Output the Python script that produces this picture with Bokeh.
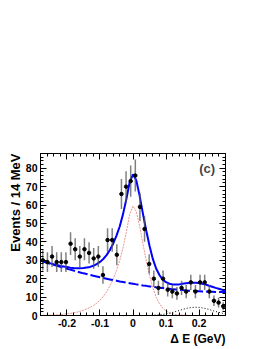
import numpy as np
from bokeh.plotting import figure
from bokeh.models import Range1d, FixedTicker, LinearAxis, Label, Title
from bokeh.embed import file_html
from bokeh.resources import INLINE

# ---- data ----
bin_centers = [-0.273, -0.259, -0.245, -0.231, -0.217, -0.203, -0.189, -0.175, -0.161, -0.147,
               -0.133, -0.119, -0.105, -0.091, -0.077, -0.063, -0.049, -0.035, -0.021, -0.007,
               0.007, 0.021, 0.035, 0.049, 0.063, 0.077, 0.091, 0.105, 0.119, 0.133,
               0.147, 0.161, 0.175, 0.189, 0.203, 0.217, 0.231, 0.245, 0.259, 0.273]
counts = [30, 29, 32, 29, 29, 29, 39, 36, 32, 36,
          34, 31, 32, 22, 41, 41, 33, 66, 70, 73,
          76, 59, 47, 28, 20, 15, 20, 14, 13, 12,
          15, 13, 18, 13, 18, 18, 13, 8, 7, 5]
errors = [5.5, 5.4, 5.7, 5.4, 5.4, 5.4, 6.2, 6.0, 5.7, 6.0,
          5.8, 5.6, 5.7, 4.7, 6.4, 6.4, 5.7, 8.1, 8.4, 8.5,
          8.7, 7.7, 6.9, 5.3, 4.5, 3.9, 4.5, 3.7, 3.6, 3.5,
          3.9, 3.6, 4.2, 3.6, 4.2, 4.2, 3.6, 2.8, 2.6, 2.2]

curve_x = [-0.28, -0.27, -0.26, -0.25, -0.24, -0.23, -0.22, -0.21, -0.20, -0.19,
           -0.18, -0.17, -0.16, -0.15, -0.14, -0.13, -0.12, -0.11, -0.10, -0.09,
           -0.08, -0.07, -0.06, -0.05, -0.04, -0.03, -0.02, -0.01, 0.00, 0.01,
           0.02, 0.03, 0.04, 0.05, 0.06, 0.07, 0.08, 0.09, 0.10, 0.11,
           0.12, 0.13, 0.14, 0.15, 0.16, 0.17, 0.18, 0.19, 0.20, 0.21,
           0.22, 0.23, 0.24, 0.25, 0.26, 0.27, 0.28]
signal = [0.1, 0.1, 0.15, 0.2, 0.3, 0.4, 0.5, 0.7, 0.9, 1.1,
          1.4, 1.8, 2.3, 2.9, 3.6, 4.4, 5.4, 6.7, 8.3, 10.3,
          12.8, 16.0, 19.8, 24.5, 30.0, 37.0, 45.5, 55.0, 59.5, 56.5,
          48.5, 39.0, 30.0, 22.0, 15.0, 10.0, 6.5, 4.0, 2.5, 1.5,
          0.9, 0.5, 0.3, 0.2, 0.1, 0.05, 0.0, 0.0, 0.0, 0.0,
          0.0, 0.0, 0.0, 0.0, 0.0, 0.0, 0.0]
comb_bkg = [29.8, 29.2, 28.6, 28.1, 27.5, 27.0, 26.4, 25.9, 25.4, 24.9,
            24.4, 23.9, 23.4, 22.9, 22.5, 22.0, 21.6, 21.2, 20.8, 20.4,
            20.0, 19.6, 19.2, 18.9, 18.5, 18.2, 17.8, 17.5, 17.2, 16.9,
            16.6, 16.3, 16.1, 15.8, 15.6, 15.3, 15.1, 14.9, 14.7, 14.5,
            14.3, 14.1, 13.9, 13.8, 13.6, 13.5, 13.4, 13.3, 13.2, 13.1,
            13.0, 12.9, 12.9, 12.8, 12.8, 12.7, 12.7]
peak_bkg = [0.0, 0.0, 0.0, 0.0, 0.0, 0.0, 0.0, 0.0, 0.0, 0.0,
            0.0, 0.0, 0.0, 0.0, 0.0, 0.0, 0.0, 0.0, 0.0, 0.0,
            0.0, 0.0, 0.0, 0.0, 0.0, 0.0, 0.0, 0.0, 0.0, 0.0,
            0.0, 0.03, 0.05, 0.09, 0.15, 0.25, 0.4, 0.6, 0.9, 1.25,
            1.7, 2.2, 2.7, 3.3, 3.8, 4.15, 4.4, 4.5, 4.4, 4.15,
            3.8, 3.3, 2.7, 2.2, 1.7, 1.25, 0.9]

x_ticks = [-0.2, -0.1, 0.0, 0.1, 0.2]
x_tick_labels = ["-0.2", "-0.1", "0", "0.1", "0.2"]
y_ticks = [0, 10, 20, 30, 40, 50, 60, 70, 80]

# ---- figure ----
p = figure(width=262, height=347, output_backend="svg", toolbar_location=None,
           x_range=Range1d(-0.28, 0.28), y_range=Range1d(0, 88),
           x_axis_location=None, y_axis_location=None,
           min_border_left=40, min_border_right=37, min_border_top=153, min_border_bottom=32)
p.outline_line_color = "black"
p.outline_line_width = 1
p.grid.visible = False
p.background_fill_color = "white"

x_minor = [round(-0.28 + 0.02 * i, 2) for i in range(29)]
y_minor = [2 * i for i in range(45)]

def style(ax, show_labels, ticks):
    ax.axis_line_color = "black"
    ax.major_tick_in = 6
    ax.major_tick_out = 0
    ax.minor_tick_in = 3
    ax.minor_tick_out = 0
    ax.major_tick_line_color = "black"
    ax.minor_tick_line_color = "black"
    ax.major_label_text_font = "Liberation Sans"
    ax.major_label_text_font_style = "bold"
    ax.major_label_text_color = "black"
    ax.major_label_text_font_size = "10.5px"
    if show_labels:
        ax.major_label_standoff = 3
    else:
        ax.major_label_standoff = 0
        ax.major_label_overrides = {t: "" for t in ticks}

xb = LinearAxis(ticker=FixedTicker(ticks=x_ticks, minor_ticks=x_minor))
style(xb, True, x_ticks)
xb.major_label_overrides = dict(zip(x_ticks, x_tick_labels))
p.add_layout(xb, "below")

xa = LinearAxis(ticker=FixedTicker(ticks=x_ticks, minor_ticks=x_minor))
style(xa, False, x_ticks)
p.add_layout(xa, "above")

yl = LinearAxis(ticker=FixedTicker(ticks=y_ticks, minor_ticks=y_minor))
style(yl, True, y_ticks)
p.add_layout(yl, "left")

yr = LinearAxis(ticker=FixedTicker(ticks=y_ticks, minor_ticks=y_minor))
style(yr, False, y_ticks)
p.add_layout(yr, "right")

# axis titles (right/top aligned, ROOT style)
p.add_layout(Title(text="\u0394 E (GeV)", align="right", text_font="Liberation Sans",
                   text_font_style="bold", text_font_size="12px", text_color="black",
                   standoff=0, offset=0), "below")
p.add_layout(Title(text="Events / 14 MeV", align="right", text_font="Liberation Sans",
                   text_font_style="bold", text_font_size="13px", text_color="black",
                   standoff=0, offset=0), "left")

# ---- curves ----
total = np.array(signal) + np.array(comb_bkg) + np.array(peak_bkg)
p.line(curve_x, signal, line_color="#f09090", line_width=1, line_dash="2 1")
p.line(curve_x, peak_bkg, line_color="black", line_width=1, line_dash="1 2")
p.line(curve_x, comb_bkg, line_color="#0000ff", line_width=2, line_dash="10 3")
p.line(curve_x, list(total), line_color="#0000ff", line_width=2)

# ---- data ----
lo = [c - e for c, e in zip(counts, errors)]
hi = [c + e for c, e in zip(counts, errors)]
p.segment(x0=bin_centers, y0=lo, x1=bin_centers, y1=hi, line_color="#555555", line_width=1.5, line_alpha=0.75)
p.scatter(bin_centers, counts, marker="circle", size=3.5, color="black")

p.add_layout(Label(x=0.2245, y=80, text="(c)", text_align="center", text_baseline="middle",
                   text_font="Liberation Sans", text_font_style="bold", text_font_size="13px"))

open("out.html", "w").write(file_html(p, INLINE))
